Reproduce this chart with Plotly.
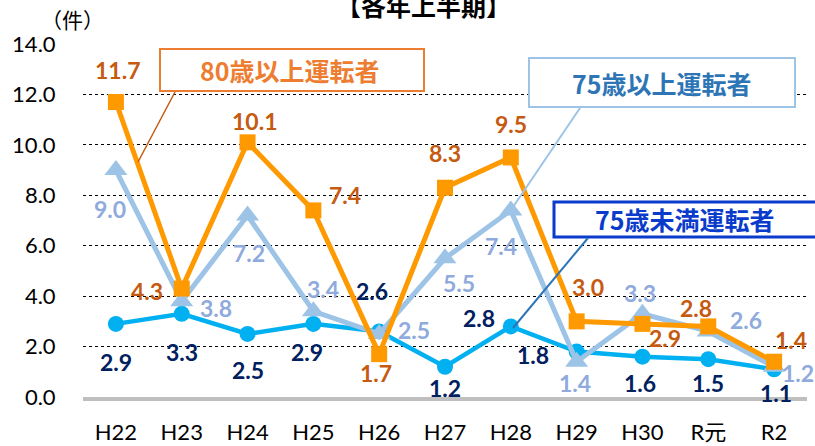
import plotly.graph_objects as go

categories = ["H22", "H23", "H24", "H25", "H26", "H27", "H28", "H29", "H30", "R元", "R2"]
under75 = [2.9, 3.3, 2.5, 2.9, 2.6, 1.2, 2.8, 1.8, 1.6, 1.5, 1.1]
over75 = [9.0, 3.8, 7.2, 3.4, 2.5, 5.5, 7.4, 1.4, 3.3, 2.6, 1.2]
over80 = [11.7, 4.3, 10.1, 7.4, 1.7, 8.3, 9.5, 3.0, 2.9, 2.8, 1.4]
y_ticks = [0, 2, 4, 6, 8, 10, 12, 14]

# label offsets (dx, dy) in px
off_under75 = [(0, -38), (0, -38), (0, -36), (-6, -28), (-7, 40), (0, -21), (-32, 8), (-44, -3), (-2, -26), (0, -24), (2, -24)]
off_over75 = [(-6, -39), (34, -7), (1, -38), (10, 22), (35, 4), (14, -25), (-10, -36), (-2, -21), (-2, 21), (38, 11), (24, -6)]
off_over80 = [(2, 32), (-35, -2), (7, 21), (32, 15), (-3, -19), (0, 35), (0, 33), (11, 34), (23, -14), (-12, 18), (17, 22)]

FONT = "Lato, 'Noto Sans CJK JP', sans-serif"
CJK = "'Noto Sans CJK JP', sans-serif"

fig = go.Figure()
fig.add_trace(go.Scatter(x=categories, y=under75, mode="lines+markers",
                         line=dict(color="#00B0F0", width=4.5),
                         marker=dict(symbol="circle", size=16, color="#00B0F0"),
                         showlegend=False))
fig.add_trace(go.Scatter(x=categories, y=over75, mode="lines+markers",
                         line=dict(color="#9DC3E6", width=5),
                         marker=dict(symbol="triangle-up", size=20, color="#9DC3E6"),
                         showlegend=False))
fig.add_trace(go.Scatter(x=categories, y=over80, mode="lines+markers",
                         line=dict(color="#FF9900", width=5),
                         marker=dict(symbol="square", size=16, color="#FF9900"),
                         showlegend=False))

annotations = []
for vals, offs, col in [(under75, off_under75, "#002060"),
                        (over75, off_over75, "#8FAADC"),
                        (over80, off_over80, "#C55A11")]:
    for c, v, (dx, dy) in zip(categories, vals, offs):
        annotations.append(dict(x=c, y=v, xref="x", yref="y", text=f"{v:.1f}",
                                showarrow=False, xshift=dx, yshift=dy,
                                xanchor="center", yanchor="middle",
                                font=dict(family=FONT, size=23, color=col, weight="bold")))

L, R, T, B = 83, 8, 44, 49
W, H = 815, 446
pw, ph = W - L - R, H - T - B

def px(x):
    return (x - L) / pw

def py(y):
    return (H - B - y) / ph

# title and unit
annotations.append(dict(x=px(423), y=py(5), xref="paper", yref="paper", text="【各年上半期】",
                        xanchor="center", yanchor="middle",
                        showarrow=False, font=dict(family=CJK, size=25, color="#000000", weight="bold")))
annotations.append(dict(x=px(72), y=py(19), xref="paper", yref="paper", text="（件）",
                        xanchor="center", yanchor="middle",
                        showarrow=False, font=dict(family=CJK, size=21, color="#000000")))

# boxes
boxes = [
    ("80歳以上運転者", 160, 424, 49, 91, "#ED7D31", "#ED7D31", 2, 290),
    ("75歳以上運転者", 529, 795, 58, 107, "#9DC3E6", "#2E75B6", 2, 662),
    ("75歳未満運転者", 554, 830, 202, 237, "#0A3BCB", "#0A3BCB", 3, 685),
]
shapes = []
for text, x0, x1, y0, y1, bc, tc, bw, tx in boxes:
    shapes.append(dict(type="rect", xref="paper", yref="paper", x0=px(x0), x1=px(x1),
                       y0=py(y1), y1=py(y0), line=dict(color=bc, width=bw), fillcolor="white",
                       layer="above"))
    annotations.append(dict(x=px(tx), y=py((y0 + y1) / 2), xref="paper", yref="paper", text=text,
                            xanchor="center", yanchor="middle",
                            showarrow=False, font=dict(family=CJK, size=25, color=tc, weight="bold")))

leaders = [((175, 92), (138, 162), "#C55A11", 1.5),
           ((580, 108), (511, 210), "#9DC3E6", 2),
           ((588, 238), (513, 328), "#2E75B6", 2)]
for (x0, y0), (x1, y1), col, w in leaders:
    shapes.append(dict(type="line", xref="paper", yref="paper", x0=px(x0), y0=py(y0),
                       x1=px(x1), y1=py(y1), line=dict(color=col, width=w), layer="above"))

fig.update_layout(
    width=W, height=H, margin=dict(l=L, r=R, t=T, b=B, autoexpand=False),
    paper_bgcolor="white", plot_bgcolor="white",
    annotations=annotations, shapes=shapes,
    xaxis=dict(type="category", range=[-0.5, 10.5], showgrid=False, showline=True,
               linecolor="#BFBFBF", linewidth=4, ticks="outside", ticklen=13,
               tickcolor="rgba(0,0,0,0)", tickfont=dict(family=FONT, size=22, color="#000000"),
               automargin=False, fixedrange=True),
    yaxis=dict(range=[0, 14], tickvals=y_ticks, ticktext=[f"{v:.1f}" for v in y_ticks],
               showgrid=True, gridcolor="#000000", gridwidth=1, griddash="dot",
               zeroline=False, showline=False, ticks="outside", ticklen=22,
               tickcolor="rgba(0,0,0,0)", tickfont=dict(family=FONT, size=22, color="#000000"),
               automargin=False, fixedrange=True),
)

fig.write_html("out.html", config={"displayModeBar": False},
               post_script="document.body.style.margin='0px';document.body.style.overflow='hidden';")
